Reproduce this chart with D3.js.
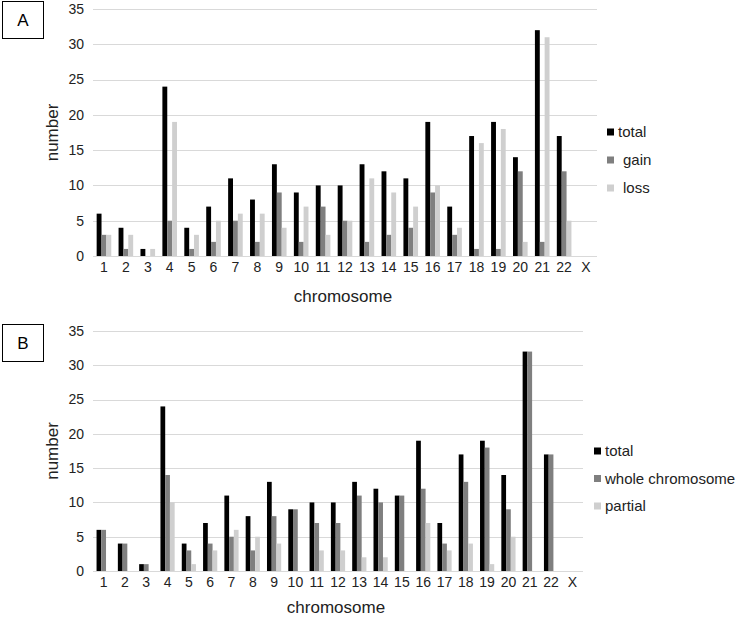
<!DOCTYPE html>
<html>
<head>
<meta charset="utf-8">
<script src="https://cdn.jsdelivr.net/npm/d3@7"></script>
<style>
  html, body { margin: 0; padding: 0; background: #fff; }
  svg { display: block; font-family: "Liberation Sans", Arial, sans-serif; }
</style>
</head>
<body>
<svg id="chart" width="742" height="618"></svg>
<script>
const chromosomes = ["1","2","3","4","5","6","7","8","9","10","11","12","13","14","15","16","17","18","19","20","21","22","X"];
const yTicks = [0, 5, 10, 15, 20, 25, 30, 35];

// Panel A
const totalA = [6,4,1,24,4,7,11,8,13,9,10,10,13,12,11,19,7,17,19,14,32,17,0];
const gainA  = [3,1,0,5,1,2,5,2,9,2,7,5,2,3,4,9,3,1,1,12,2,12,0];
const lossA  = [3,3,1,19,3,5,6,6,4,7,3,5,11,9,7,10,4,16,18,2,31,5,0];
const seriesNamesA = ["total", "gain", "loss"];

// Panel B
const totalB   = [6,4,1,24,4,7,11,8,13,9,10,10,13,12,11,19,7,17,19,14,32,17,0];
const wholeB   = [6,4,1,14,3,4,5,3,8,9,7,7,11,10,11,12,4,13,18,9,32,17,0];
const partialB = [0,0,0,10,1,3,6,5,4,0,3,3,2,2,0,7,3,4,1,5,0,0,0];
const seriesNamesB = ["total", "whole chromosome", "partial"];

const colors = ["#000000", "#7f7f7f", "#cfcfcf"];

const svg = d3.select("#chart");

function panel(cfg) {
  const g = svg.append("g");
  const x = d3.scaleBand().domain(chromosomes).range([cfg.x0, cfg.x1]).paddingInner(0).paddingOuter(0);
  const y = d3.scaleLinear().domain([0, 35]).range([cfg.y0, cfg.y1]);
  const bw = x.bandwidth() / 4.5; // Excel gap width 150%
  const inner = d3.scaleBand().domain([0,1,2]).range([0, bw * 3]);

  // gridlines
  g.append("g").selectAll("line").data(yTicks).join("line")
    .attr("x1", cfg.x0).attr("x2", cfg.x1)
    .attr("y1", d => Math.round(y(d)) + 0.5).attr("y2", d => Math.round(y(d)) + 0.5)
    .attr("stroke", "#d9d9d9").attr("stroke-width", 1);

  // y tick labels
  g.append("g").selectAll("text").data(yTicks).join("text")
    .attr("x", 84).attr("y", d => y(d)).attr("dy", "0.35em")
    .attr("text-anchor", "end").attr("font-size", 14).attr("fill", "#222")
    .text(d => d);

  // bars
  const data = cfg.series;
  data.forEach((vals, si) => {
    g.append("g").selectAll("rect").data(vals.map((v, i) => ({c: chromosomes[i], v})))
      .join("rect")
      .attr("x", d => x(d.c) + (x.bandwidth() - bw * 3) / 2 + inner(si))
      .attr("width", bw)
      .attr("y", d => y(d.v))
      .attr("height", d => y(0) - y(d.v))
      .attr("fill", colors[si]);
  });

  // x tick labels
  g.append("g").selectAll("text").data(chromosomes).join("text")
    .attr("x", d => x(d) + x.bandwidth() / 2).attr("y", cfg.y0 + 11).attr("dy", "0.35em")
    .attr("text-anchor", "middle").attr("font-size", 14).attr("fill", "#222")
    .text(d => d);

  // axis titles
  g.append("text").attr("x", (cfg.x0 + cfg.x1) / 2 - 2).attr("y", cfg.xTitleY)
    .attr("text-anchor", "middle").attr("font-size", 17).attr("fill", "#222").text("chromosome");
  g.append("text")
    .attr("transform", `translate(52,${(cfg.y0 + cfg.y1) / 2}) rotate(-90)`)
    .attr("dy", "0.35em")
    .attr("text-anchor", "middle").attr("font-size", 17).attr("fill", "#222").text("number");

  // legend
  const lg = g.append("g");
  cfg.names.forEach((n, i) => {
    const ly = cfg.legY + i * cfg.legStep;
    lg.append("rect").attr("x", cfg.legX).attr("y", ly - 3.5).attr("width", 7).attr("height", 7).attr("fill", colors[i]);
    lg.append("text").attr("x", cfg.legX + cfg.legText[i]).attr("y", ly).attr("dy", "0.35em")
      .attr("font-size", 15).attr("fill", "#222").text(n);
  });

  // panel label box
  g.append("rect").attr("x", 2.5).attr("y", cfg.boxY + 0.5).attr("width", 41).attr("height", 37)
    .attr("fill", "#fff").attr("stroke", "#000").attr("stroke-width", 1);
  g.append("text").attr("x", 23).attr("y", cfg.boxY + 19).attr("dy", "0.35em")
    .attr("text-anchor", "middle").attr("font-size", 17).attr("fill", "#000").text(cfg.label);
}

panel({
  label: "A", boxY: 1,
  x0: 93, x1: 597, y0: 256, y1: 9,
  xTitleY: 302,
  series: [totalA, gainA, lossA], names: seriesNamesA,
  legX: 607, legY: 132, legStep: 28, legText: [11, 16, 16]
});

panel({
  label: "B", boxY: 324,
  x0: 93, x1: 583, y0: 571, y1: 331,
  xTitleY: 613,
  series: [totalB, wholeB, partialB], names: seriesNamesB,
  legX: 594, legY: 451, legStep: 27.5, legText: [11, 11, 11]
});
</script>
</body>
</html>
